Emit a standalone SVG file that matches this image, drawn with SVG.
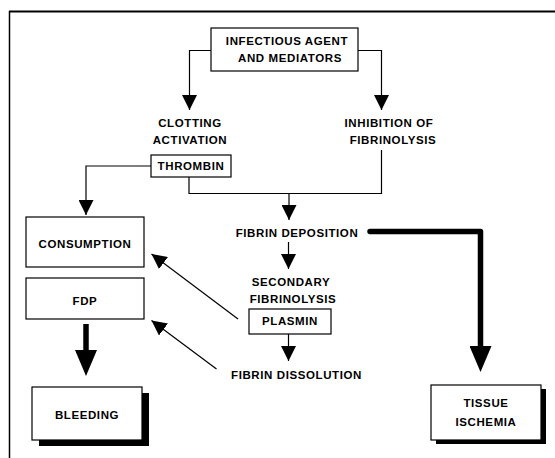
<svg xmlns="http://www.w3.org/2000/svg" width="555" height="458" viewBox="0 0 555 458">
<style>
.t{font-family:"Liberation Sans",Arial,sans-serif;font-weight:bold;font-size:11.5px;letter-spacing:0.6px;fill:#000;text-anchor:middle}
.box{fill:#fff;stroke:#000;stroke-width:1.2}
.sh{fill:#000}
.ln{fill:none;stroke:#000;stroke-width:1.2}
.thk{fill:none;stroke:#000;stroke-width:5.5}
</style>
<defs>
<marker id="ah" viewBox="0 0 15 15" refX="15" refY="7.5" markerWidth="15" markerHeight="15" orient="auto" markerUnits="userSpaceOnUse"><path d="M0,0 L15,7.5 L0,15 Z" fill="#000"/></marker>
<marker id="big" viewBox="0 0 26 22" refX="0" refY="11" markerWidth="26" markerHeight="22" orient="auto" markerUnits="userSpaceOnUse"><path d="M0,0 L26,11 L0,22 Z" fill="#000"/></marker>
</defs>
<rect width="555" height="458" fill="#fff"/>
<g id="frame">
<path d="M9,11.5 H555" stroke="#000" stroke-width="2" fill="none"/>
<path d="M9.5,11 V458" stroke="#000" stroke-width="1.5" fill="none"/>
</g>
<g id="connectors">
<path class="ln" d="M211,50.5 H189.5 V110" marker-end="url(#ah)"/>
<path class="ln" d="M358,50.5 H381.5 V110" marker-end="url(#ah)"/>
<path class="ln" d="M151,166 H86 V215" marker-end="url(#ah)"/>
<path class="ln" d="M189,177 V193.5 H381.5 V150"/>
<path class="ln" d="M289,193.5 V220" marker-end="url(#ah)"/>
<path class="ln" d="M288.5,242 V269" marker-end="url(#ah)"/>
<path class="ln" d="M288.5,334 V361" marker-end="url(#ah)"/>
<path class="ln" d="M238,319 L151.5,254" marker-end="url(#ah)"/>
<path class="ln" d="M216.5,369 L151.5,320.5" marker-end="url(#ah)"/>
<path class="thk" d="M86,324 V350" marker-end="url(#big)"/>
<path class="thk" d="M370,231.5 H480.5 V346" stroke-linecap="round" stroke-linejoin="round" marker-end="url(#big)"/>
</g>
<g id="infectious">
<rect class="box" x="211" y="28" width="147" height="43"/>
<text class="t" x="287" y="44.5">INFECTIOUS AGENT</text>
<text class="t" x="290" y="61.5">AND MEDIATORS</text>
</g>
<g id="clotting">
<text class="t" x="190" y="127">CLOTTING</text>
<text class="t" x="190" y="143.5">ACTIVATION</text>
</g>
<g id="thrombin">
<rect class="box" x="151" y="155" width="80" height="22"/>
<text class="t" x="191" y="170">THROMBIN</text>
</g>
<g id="inhibition">
<text class="t" x="389" y="127">INHIBITION OF</text>
<text class="t" x="393" y="143.5">FIBRINOLYSIS</text>
</g>
<g id="deposition">
<text class="t" x="297" y="236.5">FIBRIN DEPOSITION</text>
</g>
<g id="consumption">
<rect class="box" x="26" y="217" width="118" height="50"/>
<text class="t" x="85" y="248">CONSUMPTION</text>
</g>
<g id="fdp">
<rect class="box" x="26" y="278" width="118" height="41"/>
<text class="t" x="85" y="304.5">FDP</text>
</g>
<g id="secondary">
<text class="t" x="291" y="286">SECONDARY</text>
<text class="t" x="293" y="302.5">FIBRINOLYSIS</text>
</g>
<g id="plasmin">
<rect class="box" x="249" y="309" width="82" height="25"/>
<text class="t" x="290" y="324.5">PLASMIN</text>
</g>
<g id="dissolution">
<text class="t" x="296.5" y="378.5">FIBRIN DISSOLUTION</text>
</g>
<g id="bleeding">
<rect class="sh" x="39" y="393" width="110" height="53"/>
<rect class="box" x="32" y="387" width="110" height="53"/>
<text class="t" x="87" y="418.5">BLEEDING</text>
</g>
<g id="ischemia">
<rect class="sh" x="436" y="389" width="110" height="55"/>
<rect class="box" x="431" y="385" width="110" height="55"/>
<text class="t" x="486" y="406.5">TISSUE</text>
<text class="t" x="486" y="425.5">ISCHEMIA</text>
</g>
</svg>
